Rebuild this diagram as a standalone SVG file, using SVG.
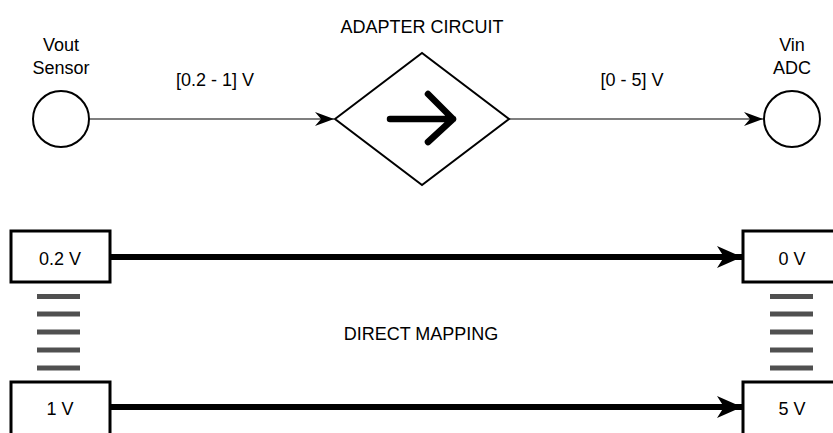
<svg xmlns="http://www.w3.org/2000/svg" width="833" height="433" viewBox="0 0 833 433">
<style>
text{font-family:"Liberation Sans",Arial,sans-serif;font-size:18px;fill:#000;text-anchor:middle}
.node{fill:#fff;stroke:#000;stroke-width:2}
.box{fill:#fff;stroke:#000;stroke-width:3}
.thin{stroke:#000;stroke-width:1.2;fill:none}
.thick{stroke:#000;stroke-width:6;fill:none}
.dash{fill:#505050}
</style>
<defs>
<marker id="a" markerUnits="userSpaceOnUse" markerWidth="20" markerHeight="16" viewBox="0 0 20 16" refX="19" refY="7" orient="auto">
<path d="M0,0 L19,7 L0,14 L6,7 Z" fill="#000"/>
</marker>
<marker id="b" markerUnits="userSpaceOnUse" markerWidth="26" markerHeight="24" viewBox="0 0 26 24" refX="25" refY="11" orient="auto">
<path d="M0,0 L25,11 L0,22 L7,11 Z" fill="#000"/>
</marker>
</defs>
<g id="connectors">
<line class="thin" x1="89" y1="119" x2="334" y2="119" marker-end="url(#a)"/>
<line class="thin" x1="509" y1="119" x2="763" y2="119" marker-end="url(#a)"/>
<line class="thick" x1="111" y1="257" x2="742" y2="257" marker-end="url(#b)"/>
<line class="thick" x1="111" y1="407" x2="742" y2="407" marker-end="url(#b)"/>
</g>
<g id="vout">
<text x="61" y="51">Vout</text>
<text x="61" y="74">Sensor</text>
<circle class="node" cx="61" cy="119" r="28"/>
</g>
<g id="adapter">
<text x="422" y="33">ADAPTER CIRCUIT</text>
<polygon class="node" points="335,119 422,53 509,119 422,185"/>
<path d="M390,119 L453,119 M428,94 L453,119 L428,142" fill="none" stroke="#000" stroke-width="6.5" stroke-linecap="round" stroke-linejoin="round"/>
</g>
<g id="vin">
<text x="792" y="51">Vin</text>
<text x="792" y="74">ADC</text>
<circle class="node" cx="792" cy="119" r="28"/>
</g>
<g id="labels">
<text x="215" y="86">[0.2 - 1] V</text>
<text x="632" y="86">[0 - 5] V</text>
<text x="421" y="340">DIRECT MAPPING</text>
</g>
<g id="in-low">
<rect class="box" x="11" y="231" width="99" height="51"/>
<text x="60" y="265">0.2 V</text>
</g>
<g id="in-high">
<rect class="box" x="11" y="382" width="99" height="55"/>
<text x="60" y="415">1 V</text>
</g>
<g id="out-low">
<rect class="box" x="743" y="231" width="99" height="51"/>
<text x="792" y="265">0 V</text>
</g>
<g id="out-high">
<rect class="box" x="743" y="382" width="99" height="55"/>
<text x="792" y="415">5 V</text>
</g>
<g id="equiv-left">
<rect class="dash" x="37" y="294" width="43" height="5"/>
<rect class="dash" x="37" y="311.5" width="43" height="5"/>
<rect class="dash" x="37" y="329.5" width="43" height="5"/>
<rect class="dash" x="37" y="347.5" width="43" height="5"/>
<rect class="dash" x="37" y="365.5" width="43" height="5"/>
</g>
<g id="equiv-right">
<rect class="dash" x="770" y="294" width="43" height="5"/>
<rect class="dash" x="770" y="311.5" width="43" height="5"/>
<rect class="dash" x="770" y="329.5" width="43" height="5"/>
<rect class="dash" x="770" y="347.5" width="43" height="5"/>
<rect class="dash" x="770" y="365.5" width="43" height="5"/>
</g>
</svg>
